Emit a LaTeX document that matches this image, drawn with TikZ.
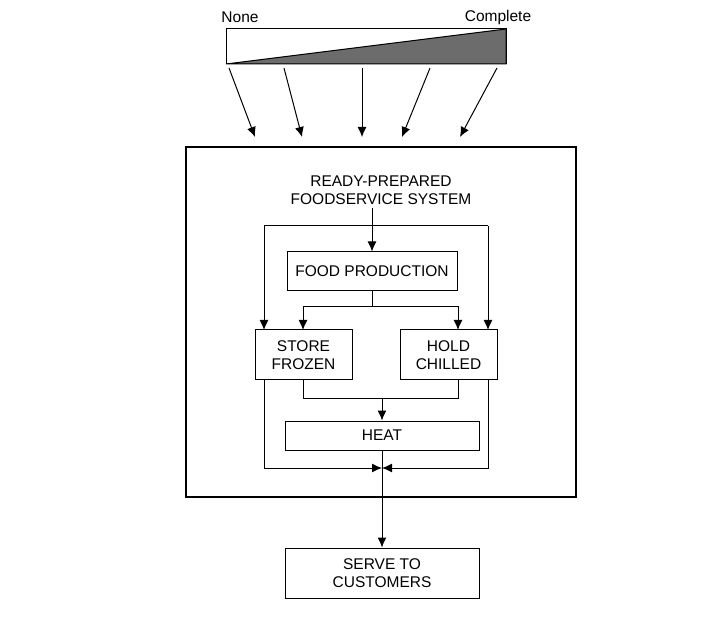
\documentclass[tikz,border=0pt]{standalone}
\usepackage{fontspec}
\setmainfont{Liberation Sans}
\usetikzlibrary{arrows.meta}
\begin{document}
\begin{tikzpicture}[x=1pt,y=-1pt,
  box/.style={draw,line width=1pt,inner sep=0pt,align=center,font=\fontsize{15.5}{18}\selectfont},
  lbl/.style={font=\fontsize{15.5}{18}\selectfont,align=center},
  arr/.style={-{Latex[length=10pt,width=9pt]},line width=1pt},
  ln/.style={line width=1pt}]
\useasboundingbox (0,0) rectangle (720,617);
% scale bar
\node[lbl] (none) at (240,17) {None};
\node[lbl] (complete) at (498,17) {Complete};
\draw[ln] (226,29) rectangle (506,64);
\fill[gray!85!black] (226,64) -- (506,29) -- (506,64) -- cycle;
\draw[ln] (226,64) -- (506,29) -- (506,64) -- cycle;
\draw[arr] (229,68) -- (255,137);
\draw[arr] (284,68) -- (302,137);
\draw[arr] (362,68) -- (362,137);
\draw[arr] (430,68) -- (402,137);
\draw[arr] (497,68) -- (460,137);
% system box
\draw[line width=2.4pt] (186,147) rectangle (576,497);
\node[lbl] (title) at (381,190) {READY-PREPARED\\FOODSERVICE SYSTEM};
\node[box,minimum width=170pt,minimum height=39pt] (fp) at (372,271.5) {FOOD PRODUCTION};
\node[box,minimum width=97pt,minimum height=50pt] (sf) at (303.5,355) {STORE\\FROZEN};
\node[box,minimum width=97pt,minimum height=50pt] (hc) at (448.5,355) {HOLD\\CHILLED};
\node[box,minimum width=194pt,minimum height=29pt] (heat) at (382,435.5) {HEAT};
\node[box,minimum width=194pt,minimum height=50pt] (serve) at (382,573) {SERVE TO\\CUSTOMERS};
\coordinate (mrg) at (382,468);
% connectors
\draw[arr] (title.south -| fp.north) -- (fp.north);
\draw[ln] (264,226) -- (488,226);
\draw[arr] (264,226) -- (264,330);
\draw[arr] (488,226) -- (488,330);
\draw[ln] (fp.south) -- (372,307);
\draw[arr] (303,307) -- (303,330);
\draw[arr] (303,307) -- (458,307) -- (458,330);
\draw[ln] (303,380) -- (303,398) -- (458,398) -- (458,380);
\draw[arr] (382,398) -- (heat.north);
\draw[arr] (264,380) -- (264,468) -- (mrg);
\draw[arr] (488,380) -- (488,468) -- (mrg);
\draw[arr] (heat.south) -- (serve.north);
\end{tikzpicture}
\end{document}
